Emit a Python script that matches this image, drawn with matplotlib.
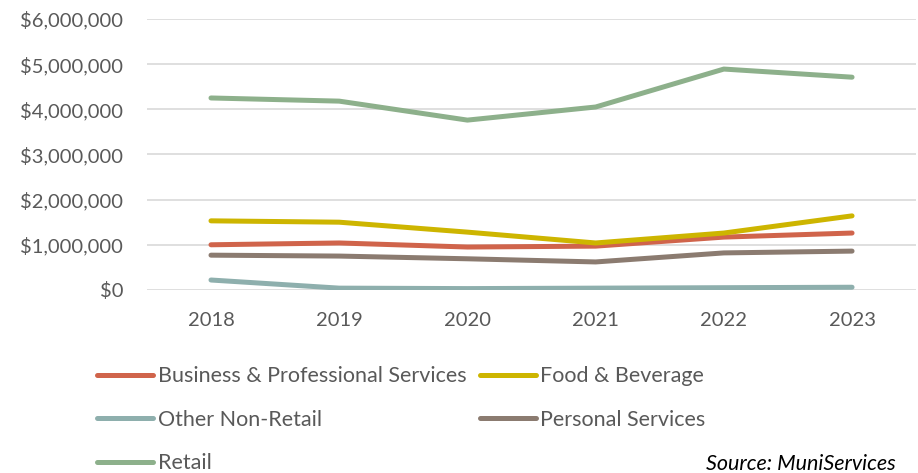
import matplotlib.pyplot as plt
from matplotlib.ticker import FuncFormatter

plt.rcParams['font.family'] = ['Lato', 'DejaVu Sans']

years = ["2018", "2019", "2020", "2021", "2022", "2023"]
business = [1000000, 1040000, 950000, 970000, 1170000, 1260000]
food = [1530000, 1500000, 1280000, 1040000, 1260000, 1640000]
other = [220000, 40000, 30000, 40000, 50000, 60000]
personal = [770000, 750000, 690000, 620000, 820000, 860000]
retail = [4250000, 4180000, 3760000, 4050000, 4890000, 4710000]

text_color = "#595959"

fig = plt.figure(figsize=(9.18, 4.73), dpi=100)
ax = fig.add_axes([0.160, 0.387, 0.838, 0.573])

lw = 3.6
l_bus, = ax.plot(years, business, color="#D0644B", lw=lw, solid_capstyle="round", label="Business & Professional Services")
l_food, = ax.plot(years, food, color="#CDB500", lw=lw, solid_capstyle="round", label="Food & Beverage")
l_oth, = ax.plot(years, other, color="#8EAFAD", lw=lw, solid_capstyle="round", label="Other Non-Retail")
l_pers, = ax.plot(years, personal, color="#8B7B70", lw=lw, solid_capstyle="round", label="Personal Services")
l_ret, = ax.plot(years, retail, color="#8DB08B", lw=lw, solid_capstyle="round", label="Retail")

ax.set_xlim(-0.5, 5.5)
ax.set_ylim(0, 6000000)
ax.set_yticks(range(0, 6000001, 1000000))
ax.yaxis.set_major_formatter(FuncFormatter(lambda v, p: "${:,.0f}".format(v)))
ax.grid(axis="y", color="#D9D9D9", lw=1.2)
ax.set_axisbelow(True)
for s in ax.spines.values():
    s.set_visible(False)
ax.tick_params(length=0, labelsize=14.5, colors=text_color, pad=17)
ax.tick_params(axis="x", pad=16)

fig.legend(handles=[l_bus, l_oth, l_ret, l_food, l_pers],
           loc="upper left", bbox_to_anchor=(0.106, 0.226), ncol=2,
           frameon=False, fontsize=15.5, labelcolor=text_color,
           handlelength=2.6, handletextpad=0.2, columnspacing=0.63,
           labelspacing=1.1, borderaxespad=0, borderpad=0)

fig.text(0.769, 0.006, "Source: MuniServices", fontsize=15.5, style="italic", color="#000000")

fig.savefig("out.png", dpi=100)
